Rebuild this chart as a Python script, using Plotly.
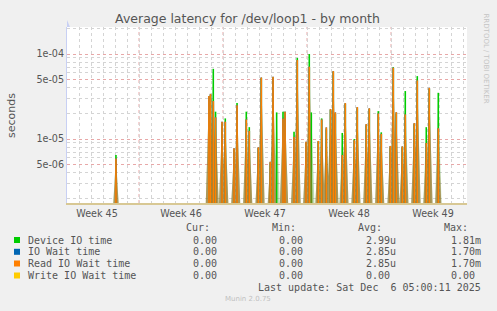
import plotly.graph_objects as go
import math

# ---------------- data ----------------
# spike times, in days counted from the left edge of the graph
spike_days = [4.08, 11.83, 11.96, 12.19, 12.38, 12.92, 13.19, 13.92, 14.17, 14.94,
              15.19, 15.94, 16.19, 16.94, 17.17, 17.47, 18.00, 18.17, 18.92, 19.19,
              19.92, 20.19, 20.36, 20.94, 21.22, 21.61, 21.96, 22.19, 22.36, 22.94,
              23.19, 23.94, 24.19, 24.94, 25.19, 25.94, 26.19, 26.94, 27.19, 27.44,
              27.94, 28.19, 28.94, 29.19, 29.94, 30.19, 30.94]
device_io = [6.5e-6, 3.1e-5, 3.3e-5, 6.7e-5, 2.1e-5, 1.5e-5, 1.75e-5, 7.5e-6, 2.65e-5, 2.1e-5,
             1.38e-5, 7.8e-6, 5.2e-5, 5.2e-6, 5.3e-5, 2.06e-5, 2.1e-5, 2.1e-5, 1.22e-5, 9.0e-5,
             9.0e-6, 1.0e-4, 2.06e-5, 9.2e-6, 1.75e-5, 1.3e-5, 2.2e-5, 6.2e-5, 2.0e-5, 1.18e-5,
             2.6e-5, 1.0e-5, 2.3e-5, 1.45e-5, 2.25e-5, 2.13e-5, 1.2e-5, 8.0e-6, 7.0e-5, 2.0e-5,
             8.0e-6, 3.67e-5, 1.5e-5, 5.5e-5, 1.38e-5, 3.9e-5, 3.5e-5]
read_io = [5.9e-6, 3.2e-5, 3.4e-5, 2.8e-5, 1.8e-5, 1.6e-5, 1.6e-5, 7.8e-6, 2.5e-5, 1.7e-5,
           1.25e-5, 8.0e-6, 5.3e-5, 5.4e-6, 5.4e-5, 0.0, 1.75e-5, 2.1e-5, 1.06e-5, 8.5e-5,
           9.3e-6, 7.1e-5, 0.0, 9.5e-6, 1.7e-5, 1.37e-5, 2.25e-5, 6.3e-5, 2.06e-5, 6.5e-6,
           2.65e-5, 9.7e-6, 2.38e-5, 1.5e-5, 2.3e-5, 2.0e-5, 1.15e-5, 8.3e-6, 6.9e-5, 2.07e-5,
           8.2e-6, 1.95e-5, 1.54e-5, 4.9e-5, 9.0e-6, 4.0e-5, 1.34e-5]
io_wait = list(read_io)
write_io = [0.0] * len(spike_days)

week_labels = ["Week 45", "Week 46", "Week 47", "Week 48", "Week 49"]
week_starts = [6, 13, 20, 27]          # Monday boundaries (days)
x_range = [0, 33.333]
y_range = [1.77e-6, 2.08e-4]

series_names = ["Device IO time", "IO Wait time", "Read IO Wait time", "Write IO Wait time"]
series_colors = ["#00cc00", "#0066b3", "#ff8000", "#ffcc00"]
cur_vals = ["0.00 ", "0.00 ", "0.00 ", "0.00 "]
min_vals = ["0.00 ", "0.00 ", "0.00 ", "0.00 "]
avg_vals = ["2.99u", "2.85u", "2.85u", "0.00 "]
max_vals = ["1.81m", "1.70m", "1.70m", "0.00 "]

# ---------------- geometry ----------------
W, H = 497, 311
L, R, T, B = 67, 467, 27, 203
FLOOR = 1.0e-6
HALF = 0.32


def px(x):
    return (x - L) / (R - L)


def py(y):
    return (B - y) / (B - T)


def spike_traces(days, vals, color, fill):
    lx, ly, fx, fy = [], [], [], []
    for d, v in zip(days, vals):
        if v <= 0:
            continue
        lx += [d, d, None]
        ly += [FLOOR, v, None]
        fx += [d - HALF, d, d + HALF, None]
        fy += [FLOOR, v, FLOOR, None]
    tf = go.Scatter(x=fx, y=fy, mode="lines", fill="toself", fillcolor=fill,
                    line=dict(width=0), hoverinfo="skip", showlegend=False)
    tl = go.Scatter(x=lx, y=ly, mode="lines", line=dict(color=color, width=1.6),
                    showlegend=False)
    return [tf, tl]


fig = go.Figure()
for t in spike_traces(spike_days, device_io, series_colors[0], "rgba(90,170,70,0.4)"):
    fig.add_trace(t)
for t in spike_traces(spike_days, io_wait, series_colors[1], "rgba(0,0,0,0)"):
    fig.add_trace(t)
for t in spike_traces(spike_days, read_io, series_colors[2], "rgba(160,110,35,0.62)"):
    fig.add_trace(t)
for t in spike_traces(spike_days, write_io, series_colors[3], "rgba(0,0,0,0)"):
    fig.add_trace(t)

# grid values
major_y = [5e-6, 1e-5, 5e-5, 1e-4]
major_y_text = ["5e-06", "1e-05", "5e-05", "1e-04"]
minor_y = []
for e in (-6, -5, -4):
    for m in (2, 3, 4, 6, 7, 8, 9):
        v = m * 10.0 ** e
        if y_range[0] < v < y_range[1]:
            minor_y.append(v)

label_pos = [ws - 3.5 for ws in week_starts] + [week_starts[-1] + 3.5]

fig.update_layout(
    width=W, height=H,
    margin=dict(l=L, r=W - R, t=T, b=H - B),
    paper_bgcolor="#f0f0f0", plot_bgcolor="#ffffff",
    showlegend=False,
    font=dict(family="DejaVu Sans", color="#555555"),
    title=dict(text="Average latency for /dev/loop1 - by month",
               x=247.5 / W, y=1 - 19 / H, xanchor="center", yanchor="middle",
               font=dict(size=12.5, color="#555555", family="DejaVu Sans")),
    xaxis=dict(range=x_range, tickvals=label_pos, ticktext=week_labels,
               showgrid=False, zeroline=False, ticks="",
               tickfont=dict(size=9.6, color="#555555"),
               showline=True, linecolor="#d8c894", linewidth=2,
               minor=dict(tickmode="array", tickvals=list(range(1, 34)), showgrid=True,
                          gridcolor="#d4d4d4", griddash="dot", gridwidth=1, ticks="")),
    yaxis=dict(type="log", range=[math.log10(y_range[0]), math.log10(y_range[1])],
               tickvals=major_y, ticktext=major_y_text, ticks="",
               showgrid=True, gridcolor="#e8a8a8", griddash="dot", gridwidth=1,
               zeroline=False, tickfont=dict(size=9.6, color="#555555"),
               ticklabelstandoff=0,
               showline=True, linecolor="#c8d0f4", linewidth=1,
               minor=dict(tickmode="array", tickvals=minor_y, showgrid=True,
                          gridcolor="#d4d4d4", griddash="dot", gridwidth=1, ticks="")),
)

shapes = []
for ws in week_starts:
    shapes.append(dict(type="line", xref="x", yref="paper", x0=ws, x1=ws, y0=0, y1=1,
                       line=dict(color="#e8a8a8", width=1, dash="dot"), layer="below"))
# axis arrows
shapes.append(dict(type="path", xref="x", yref="paper", xsizemode="pixel", ysizemode="pixel",
                   xanchor=x_range[0], yanchor=1, path="M -3,0 L 3,0 L 0,7 Z",
                   fillcolor="#c8d0f4", line=dict(width=0)))
shapes.append(dict(type="path", xref="x", yref="paper", xsizemode="pixel", ysizemode="pixel",
                   xanchor=x_range[1], yanchor=0, path="M 0,-3 L 0,3 L 7,0 Z",
                   fillcolor="#c8d0f4", line=dict(width=0)))

ann = []
ann.append(dict(text="seconds", x=px(11), y=py(115), xref="paper", yref="paper",
                textangle=-90, showarrow=False, xanchor="center", yanchor="middle",
                font=dict(size=11, color="#555555")))
ann.append(dict(text="RRDTOOL / TOBI OETIKER", x=px(486), y=py(58.5), xref="paper", yref="paper",
                textangle=90, showarrow=False, xanchor="center", yanchor="middle",
                font=dict(size=7, color="#c4c4c4")))

mono = dict(family="DejaVu Sans Mono", size=10, color="#555555")
header_y = 227.7
for txt, xr in (("Cur:", 212), ("Min:", 298), ("Avg:", 384), ("Max:", 470)):
    ann.append(dict(text=txt, x=px(xr), y=py(header_y), xref="paper", yref="paper",
                    showarrow=False, xanchor="right", yanchor="middle", font=mono))
row_y = [240, 251.8, 263.5, 275.5]
for i in range(4):
    yy = row_y[i]
    shapes.append(dict(type="rect", xref="paper", yref="paper",
                       x0=px(14), x1=px(20), y0=py(yy - 3), y1=py(yy + 3),
                       fillcolor=series_colors[i], line=dict(width=0)))
    ann.append(dict(text=series_names[i], x=px(26), y=py(yy), xref="paper", yref="paper",
                    showarrow=False, xanchor="left", yanchor="middle", font=mono))
    for vals, xr in ((cur_vals, 225), (min_vals, 311), (avg_vals, 397.7), (max_vals, 482.7)):
        ann.append(dict(text=vals[i].replace(" ", "\u00a0"), x=px(xr), y=py(yy),
                        xref="paper", yref="paper", showarrow=False,
                        xanchor="right", yanchor="middle", font=mono))
ann.append(dict(text="Last update: Sat Dec  6 05:00:11 2025".replace(" ", "\u00a0"),
                x=px(482.7), y=py(287.7), xref="paper", yref="paper", showarrow=False,
                xanchor="right", yanchor="middle", font=mono))
ann.append(dict(text="Munin 2.0.75", x=px(247.7), y=py(299.3), xref="paper", yref="paper",
                showarrow=False, xanchor="center", yanchor="middle",
                font=dict(size=7, color="#c0c0c0")))

fig.update_layout(shapes=shapes, annotations=ann)
fig.write_html("out.html")
